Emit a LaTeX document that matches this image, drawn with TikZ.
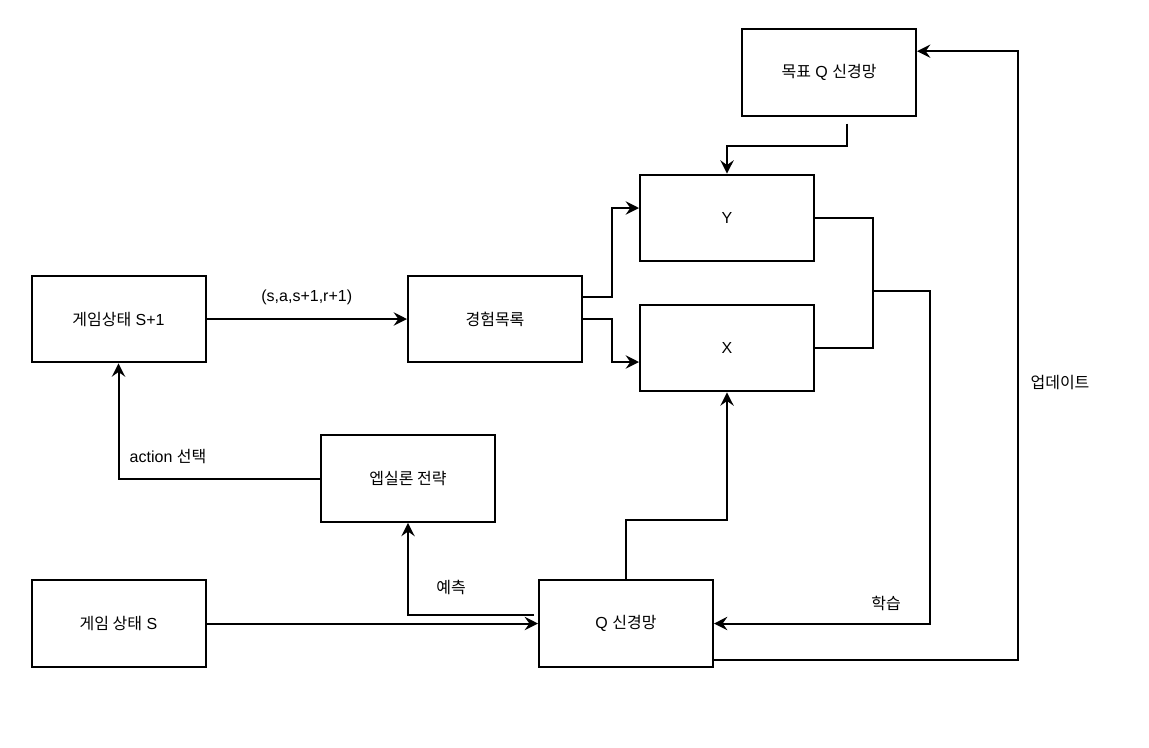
\documentclass[tikz,border=0pt]{standalone}
\usepackage{fontspec}
\setmainfont{Liberation Sans}
\newfontfamily\kr{Noto Sans CJK KR}
\usetikzlibrary{arrows.meta}

\begin{document}
\begin{tikzpicture}[x=0.75pt, y=-0.75pt, line width=1.5pt,
    main/.style = {draw, rectangle, minimum width=130.5pt, minimum height=65pt, inner sep=0pt, font=\fontsize{12}{14}\selectfont},
    lbl/.style = {font=\fontsize{12}{14}\selectfont},
    arr/.style = {-{Stealth[length=10pt, width=10pt, inset=3.5pt]}}]
    \useasboundingbox (0,0) rectangle (1149,747);
    \node[main] (tgt) at (829,72.5) {{\kr 목표} Q {\kr 신경망}};
    \node[main] (y) at (727,218) {Y};
    \node[main] (x) at (727,348) {X};
    \node[main] (mem) at (495,319) {\kr 경험목록};
    \node[main] (next) at (118.5,319) {{\kr 게임상태} S+1};
    \node[main] (eps) at (408,478.5) {\kr 엡실론 전략};
    \node[main] (state) at (118.5,623.5) {{\kr 게임 상태} S};
    \node[main] (qnet) at (626,623.5) {Q {\kr 신경망}};
    \coordinate (join) at (872,291);
    \draw[arr] (next) -- node[lbl, midway, yshift=16.5pt] {(s,a,s+1,r+1)} (mem);
    \draw[arr] ([yshift=16.5pt]mem.east) -- ++(29,0) |- ([yshift=7.5pt]y.west);
    \draw[arr] (mem.east) -- ++(29,0) |- ([yshift=-10.5pt]x.west);
    \draw[arr] ([xshift=13.5pt, yshift=-5pt]tgt.south) -- ++(0,22) -| (y.north);
    \draw (y.east) -- ++(58,0) |- (x.east);
    \draw[arr] (join) -- ++(58,0) |- (qnet.east);
    \draw[arr] (qnet.north) -- ++(0,-59) -| (x.south);
    \draw[arr] ([yshift=-27pt]qnet.east) -- ++(304,0) |- ([yshift=16pt]tgt.east);
    \draw[arr] (state) -- (qnet);
    \draw[arr] ([xshift=-3pt, yshift=6.4pt]qnet.west) -| (eps.south);
    \draw[arr] (eps.west) -| (next.south);
    \node[lbl] (act) at (168,457) {action {\kr 선택}};
    \node[lbl] (pred) at (451,587) {\kr 예측};
    \node[lbl] (learn) at (886,603) {\kr 학습};
    \node[lbl] (upd) at (1060,383) {\kr 업데이트};
\end{tikzpicture}
\end{document}
